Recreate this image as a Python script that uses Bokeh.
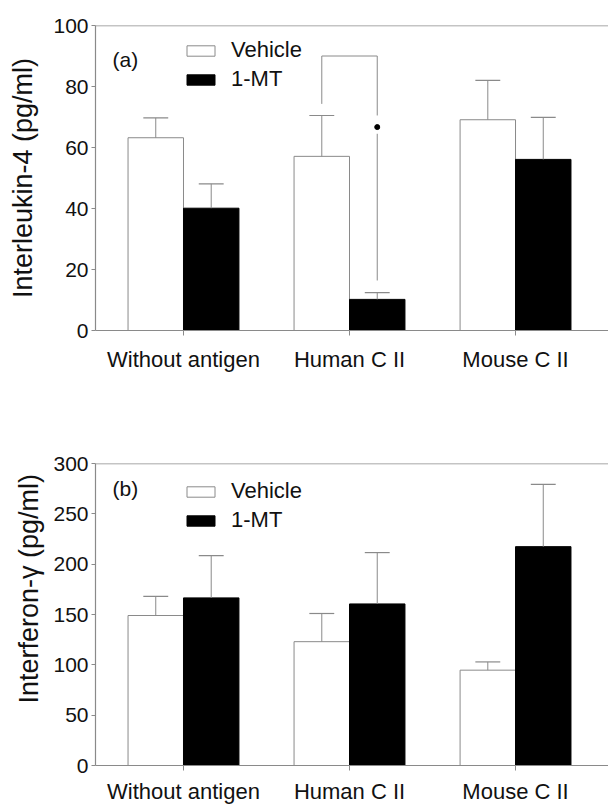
import numpy as np
from bokeh.plotting import figure
from bokeh.models import Range1d, FixedTicker, Legend, LegendItem, Span, Label, Title, ColumnDataSource
from bokeh.layouts import column
from bokeh.embed import file_html
from bokeh.resources import INLINE

# ---------------- data ----------------
categories = ["Without antigen", "Human C II", "Mouse C II"]
groups = ["Vehicle", "1-MT"]

il4_vehicle = [63.2, 57.1, 69.1]
il4_vehicle_sem = [6.5, 13.4, 12.9]
il4_mt = [40.1, 10.2, 56.1]
il4_mt_sem = [8.0, 2.2, 13.8]
il4_ticks = [0, 20, 40, 60, 80, 100]

ifn_vehicle = [149.0, 123.0, 94.7]
ifn_vehicle_sem = [19.1, 28.0, 8.2]
ifn_mt = [166.5, 160.5, 217.4]
ifn_mt_sem = [42.0, 51.0, 61.9]
ifn_ticks = [0, 50, 100, 150, 200, 250, 300]

# significance bracket, panel (a), Human C II: Vehicle vs 1-MT
sig_category = 1
sig_top = 90.0
sig_left_end = 74.3
sig_right_end = 16.4
sig_star = 66.7
sig_gap = [70.5, 64.5]

# ---------------- style ----------------
FONT = "Liberation Sans"
BAR_W = 0.334
CAP_W = 0.15
GRAY = "#8a8a8a"
TEXT = "#111111"


def make_panel(title, tag, vehicle, vsem, mt, msem, ticks, height, border_top,
               border_bottom, x_standoff, tag_pos, legend_loc, title_offset=None):
    ymax = ticks[-1]
    p = figure(width=608, height=height, output_backend="svg", toolbar_location=None,
               x_range=Range1d(-0.530, 2.560), y_range=Range1d(0, ymax),
               min_border_left=95, min_border_right=0,
               min_border_top=border_top, min_border_bottom=border_bottom)
    p.outline_line_color = None
    p.grid.visible = False
    p.background_fill_color = "white"

    idx = np.arange(len(categories))
    v = np.array(vehicle)
    m = np.array(mt)
    src = ColumnDataSource(dict(
        xv=idx - BAR_W / 2, xm=idx + BAR_W / 2, v=v, m=m,
        vt=v + np.array(vsem), mtop=m + np.array(msem)))

    rv = p.vbar(x="xv", top="v", bottom=0, width=BAR_W, source=src,
                fill_color="white", line_color=GRAY, line_width=1)
    rm = p.vbar(x="xm", top="m", bottom=0, width=BAR_W, source=src,
                fill_color="black", line_color="black", line_width=1)

    # error bars (upper only)
    for xc, lo, hi in (("xv", "v", "vt"), ("xm", "m", "mtop")):
        p.segment(x0=xc, y0=lo, x1=xc, y1=hi, source=src, line_color=GRAY, line_width=1)
        xs = src.data[xc]
        p.segment(x0=xs - CAP_W / 2, y0=src.data[hi], x1=xs + CAP_W / 2, y1=src.data[hi],
                  line_color=GRAY, line_width=1.2)

    # frame top line
    p.add_layout(Span(location=ymax, dimension="width", line_color=GRAY, line_width=1.5))

    # axes
    for ax in (p.xaxis, p.yaxis):
        ax.axis_line_color = GRAY
        ax.axis_line_width = 1.2
        ax.major_tick_line_color = GRAY
        ax.minor_tick_line_color = None
        ax.major_tick_in = 0
        ax.major_label_text_font = FONT
        ax.major_label_text_color = TEXT
    p.yaxis.ticker = FixedTicker(ticks=ticks)
    p.yaxis.major_tick_out = 4
    p.yaxis.major_label_standoff = 3
    p.yaxis.major_label_text_font_size = "21px"
    if title_offset is None:
        p.yaxis.axis_label = title
        p.yaxis.axis_label_text_font = FONT
        p.yaxis.axis_label_text_font_size = "27px"
        p.yaxis.axis_label_text_font_style = "normal"
        p.yaxis.axis_label_text_color = TEXT
        p.yaxis.axis_label_standoff = 12
    else:
        p.add_layout(Title(text=title, align="left", offset=title_offset, standoff=14,
                           text_font=FONT, text_font_size="27px",
                           text_font_style="normal", text_color=TEXT), "left")

    p.xaxis.ticker = FixedTicker(ticks=list(idx))
    p.xaxis.major_label_overrides = {int(i): c for i, c in zip(idx, categories)}
    p.xaxis.major_tick_out = 5
    p.xaxis.major_label_standoff = x_standoff
    p.xaxis.major_label_text_font_size = "22px"

    # panel tag
    p.add_layout(Label(x=tag_pos[0], y=tag_pos[1], text=tag, text_font=FONT,
                       text_font_size="21px", text_color=TEXT,
                       text_align="center", text_baseline="middle"))

    legend = Legend(items=[LegendItem(label=groups[0], renderers=[rv]),
                           LegendItem(label=groups[1], renderers=[rm])],
                    location=legend_loc, padding=0, margin=0, spacing=3,
                    glyph_width=35, glyph_height=13, label_standoff=13,
                    label_text_font=FONT, label_text_font_size="22px",
                    label_text_color=TEXT, border_line_color=None,
                    background_fill_alpha=0)
    p.add_layout(legend)
    return p


p1 = make_panel("Interleukin-4 (pg/ml)", "(a)", il4_vehicle, il4_vehicle_sem, il4_mt,
                il4_mt_sem, il4_ticks, height=408, border_top=25, border_bottom=78,
                x_standoff=11, tag_pos=(-0.35, 88.9), legend_loc=(88, 238))

xl = sig_category - BAR_W / 2
xr = sig_category + BAR_W / 2
p1.line(x=[xl, xl, xr, xr], y=[sig_left_end, sig_top, sig_top, sig_gap[0]],
        line_color=GRAY, line_width=1)
p1.line(x=[xr, xr], y=[sig_gap[1], sig_right_end], line_color=GRAY, line_width=1)
p1.scatter(x=[xr], y=[sig_star], size=5, color="black")

p2 = make_panel("Interferon-\u03b3 (pg/ml)", "(b)", ifn_vehicle, ifn_vehicle_sem, ifn_mt,
                ifn_mt_sem, ifn_ticks, height=398, border_top=55, border_bottom=39,
                x_standoff=8, tag_pos=(-0.35, 275), legend_loc=(88, 232),
                title_offset=62)

layout = column(p1, p2)
open("out.html", "w").write(file_html(layout, INLINE))
